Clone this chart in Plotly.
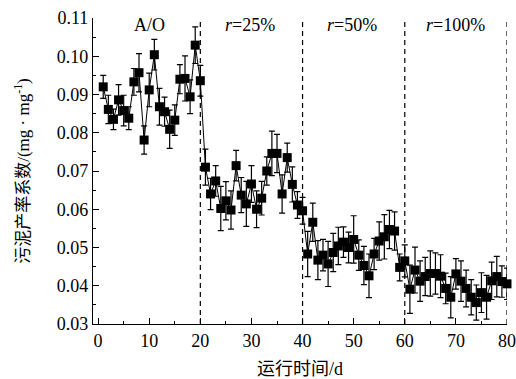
import plotly.graph_objects as go

days = list(range(1, 81))
yield_coef = [
    0.0920, 0.0861, 0.0835, 0.0886, 0.0858, 0.0838, 0.0933, 0.0957, 0.0781, 0.0912,
    0.1004, 0.0868, 0.0855, 0.0809, 0.0833, 0.0940, 0.0942, 0.0894, 0.1029, 0.0936,
    0.0710, 0.0640, 0.0674, 0.0602, 0.0622, 0.0598, 0.0714, 0.0637, 0.0614, 0.0666,
    0.0600, 0.0629, 0.0700, 0.0746, 0.0746, 0.0640, 0.0735, 0.0665, 0.0611, 0.0596,
    0.0483, 0.0566, 0.0467, 0.0480, 0.0457, 0.0487, 0.0504, 0.0514, 0.0500, 0.0521,
    0.0480, 0.0453, 0.0426, 0.0483, 0.0517, 0.0528, 0.0547, 0.0543, 0.0448, 0.0465,
    0.0391, 0.0441, 0.0412, 0.0424, 0.0432, 0.0432, 0.0425, 0.0393, 0.0370, 0.0431,
    0.0412, 0.0393, 0.0370, 0.0356, 0.0382, 0.0370, 0.0413, 0.0424, 0.0411, 0.0405,
]
errors = [
    0.0030, 0.0037, 0.0027, 0.0040, 0.0040, 0.0030, 0.0035, 0.0050, 0.0037, 0.0044,
    0.0040, 0.0048, 0.0038, 0.0050, 0.0040, 0.0038, 0.0059, 0.0044, 0.0048, 0.0040,
    0.0047, 0.0041, 0.0040, 0.0058, 0.0050, 0.0050, 0.0040, 0.0046, 0.0059, 0.0048,
    0.0048, 0.0044, 0.0037, 0.0058, 0.0050, 0.0050, 0.0038, 0.0046, 0.0035, 0.0035,
    0.0059, 0.0050, 0.0051, 0.0041, 0.0059, 0.0050, 0.0049, 0.0040, 0.0040, 0.0062,
    0.0040, 0.0050, 0.0057, 0.0041, 0.0050, 0.0058, 0.0050, 0.0050, 0.0035, 0.0042,
    0.0063, 0.0060, 0.0053, 0.0050, 0.0059, 0.0054, 0.0056, 0.0040, 0.0054, 0.0040,
    0.0053, 0.0048, 0.0046, 0.0046, 0.0052, 0.0057, 0.0049, 0.0053, 0.0041, 0.0041,
]
phase_bounds = [20, 40, 60, 80]
phase_labels = ["A/O", "<i>r</i>=25%", "<i>r</i>=50%", "<i>r</i>=100%"]
phase_label_x = [10, 29.7, 49.7, 70]

x_ticks = [0, 10, 20, 30, 40, 50, 60, 70, 80]
y_ticks = [0.03, 0.04, 0.05, 0.06, 0.07, 0.08, 0.09, 0.10, 0.11]

FONT = "Liberation Serif, Noto Sans CJK SC, serif"

fig = go.Figure()
fig.add_trace(go.Scatter(
    x=days, y=yield_coef,
    mode="lines+markers",
    line=dict(color="black", width=1),
    marker=dict(symbol="square", size=9, color="black"),
    error_y=dict(type="data", array=errors, visible=True, color="black",
                 thickness=1.2, width=3),
    showlegend=False,
    cliponaxis=False,
))

for xb in phase_bounds:
    fig.add_shape(type="line", xref="x", yref="paper", x0=xb, x1=xb, y0=0, y1=1,
                  line=dict(color="black", width=1.2, dash="5px,4px"))

for lx, lt in zip(phase_label_x, phase_labels):
    fig.add_annotation(x=lx, y=0.1082, text=lt, showarrow=False,
                       font=dict(family=FONT, size=18, color="black"),
                       xanchor="center", yanchor="middle")

fig.update_layout(
    width=516, height=379,
    margin=dict(l=93, r=9, t=18, b=55),
    paper_bgcolor="white", plot_bgcolor="white",
    font=dict(family=FONT, size=18, color="black"),
)
fig.update_xaxes(
    range=[-1, 80], tickvals=x_ticks, ticktext=[str(v) for v in x_ticks],
    showline=True, linecolor="black", linewidth=1.2, mirror=False,
    ticks="inside", ticklen=6, tickwidth=1, tickcolor="black",
    minor=dict(tickvals=[5, 15, 25, 35, 45, 55, 65, 75], ticks="inside", ticklen=3,
               tickcolor="black"),
    showgrid=False, zeroline=False, automargin=False,
    title=dict(text="运行时间/d", font=dict(family=FONT, size=18), standoff=12),
    tickfont=dict(family=FONT, size=18),
)
fig.update_yaxes(
    range=[0.03, 0.11], tickvals=y_ticks, ticktext=[f"{v:.2f}" for v in y_ticks],
    showline=True, linecolor="black", linewidth=1.2, mirror=False,
    ticks="inside", ticklen=6, tickwidth=1, tickcolor="black",
    minor=dict(dtick=0.005, ticks="inside", ticklen=3, tickcolor="black"),
    showgrid=False, zeroline=False, automargin=False,
    title=dict(text="污泥产率系数/(mg · mg<sup>-1</sup>)", font=dict(family=FONT, size=17), standoff=22),
    tickfont=dict(family=FONT, size=18),
)

fig.write_html("out.html", config={"displayModeBar": False},
               post_script="document.body.style.margin='0';document.body.style.overflow='hidden';")
